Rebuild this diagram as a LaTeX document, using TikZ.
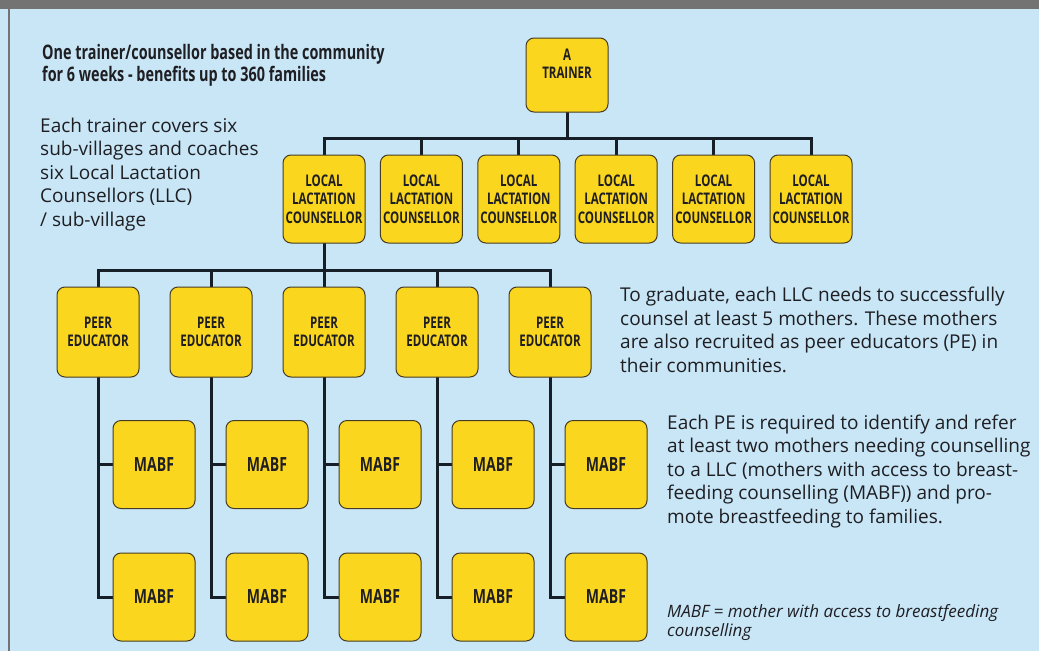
\documentclass[tikz,border=0pt]{standalone}
\usepackage{fontspec}
\setmainfont{Open Sans}
\newfontfamily\condfont{Open Sans}[FakeStretch=0.72]
\definecolor{bgblue}{RGB}{200,230,246}
\definecolor{bargray}{RGB}{115,115,115}
\definecolor{boxyellow}{RGB}{251,214,30}
\definecolor{boxedge}{RGB}{70,60,35}
\definecolor{lineclr}{RGB}{22,30,40}
\definecolor{txt}{RGB}{30,30,35}
\pgfdeclarelayer{bg}
\pgfdeclarelayer{edges}
\pgfsetlayers{bg,edges,main}
\begin{document}
\begin{tikzpicture}[x=1pt,y=-1pt,
  box/.style={draw=boxedge, line width=1pt, fill=boxyellow, rounded corners=8pt,
    minimum width=82pt, minimum height=88pt, inner sep=0pt, align=center, text=txt,
    font=\condfont\bfseries\fontsize{16}{18.5}\selectfont},
  mabf/.style={box, font=\condfont\bfseries\fontsize{19.5}{21}\selectfont},
  conn/.style={draw=lineclr, line width=3pt, line cap=rect},
  bodytext/.style={anchor=base west, align=left, inner sep=0pt, text=txt,
    font=\fontsize{19}{23.5}\selectfont},
  headtext/.style={anchor=base west, align=left, inner sep=0pt, text=txt,
    font=\condfont\bfseries\fontsize{20}{22}\selectfont},
  notetext/.style={anchor=base west, align=left, inner sep=0pt, text=txt,
    font=\itshape\fontsize{17}{19}\selectfont}]
\useasboundingbox (0,0) rectangle (1039,651);
\begin{pgfonlayer}{bg}
  \fill[bgblue] (0,0) rectangle (1039,651);
  \fill[bargray] (0,0) rectangle (1039,9);
  \fill[bargray] (7.5,9) rectangle (10,651);
\end{pgfonlayer}

% nodes
\node[box, minimum height=74pt] (trainer) at (567,75) {};
\node[inner sep=0pt, align=center, text=txt, font=\condfont\bfseries\fontsize{16}{18.5}\selectfont] (trainertext) at (567,64) {A\\TRAINER};
\foreach \i in {1,...,6} {
  \pgfmathsetmacro{\xx}{324+97.4*(\i-1)}
  \node[box] (llc\i) at (\xx,199) {LOCAL\\LACTATION\\COUNSELLOR};
}
\foreach \i in {1,...,5} {
  \pgfmathsetmacro{\xx}{98+113*(\i-1)}
  \pgfmathsetmacro{\mx}{\xx+56}
  \node[box, minimum height=90pt] (pe\i) at (\xx,332) {PEER\\EDUCATOR};
  \node[mabf] (ma\i) at (\mx,464.5) {MABF};
  \node[mabf] (mb\i) at (\mx,597) {MABF};
}

% connectors
\begin{pgfonlayer}{edges}
  \coordinate (busA) at (0,138);
  \coordinate (busB) at (0,270);
  \draw[conn] (trainer.south) -- (trainer.south |- busA);
  \draw[conn] (llc1.center |- busA) -- (llc6.center |- busA);
  \foreach \i in {1,...,6} \draw[conn] (llc\i.center |- busA) -- (llc\i.north);
  \draw[conn] (llc1.south) -- (llc1.south |- busB);
  \draw[conn] (pe1.center |- busB) -- (pe5.center |- busB);
  \foreach \i in {1,...,5} {
    \draw[conn] (pe\i.center |- busB) -- (pe\i.north);
    \draw[conn] (pe\i.south) |- (mb\i.west);
    \draw[conn] (pe\i.south |- ma\i.west) -- (ma\i.west);
  }
\end{pgfonlayer}

% texts (base anchor = baseline of the last line)
\node[headtext] (head) at (42,81) {One trainer/counsellor based in the community\\for 6 weeks - benefits up to 360 families};
\node[bodytext] (t1) at (40,226) {Each trainer covers six\\sub-villages and coaches\\six Local Lactation\\Counsellors (LLC)\\/ sub-village};
\node[bodytext] (t2) at (620,372) {To graduate, each LLC needs to successfully\\counsel at least 5 mothers. These mothers\\are also recruited as peer educators (PE) in\\their communities.};
\node[bodytext] (t3) at (667,523) {Each PE is required to identify and refer\\at least two mothers needing counselling\\to a LLC (mothers with access to breast-\\feeding counselling (MABF)) and pro-\\mote breastfeeding to families.};
\node[notetext] (note) at (667,636) {MABF = mother with access to breastfeeding\\counselling};
\end{tikzpicture}
\end{document}
